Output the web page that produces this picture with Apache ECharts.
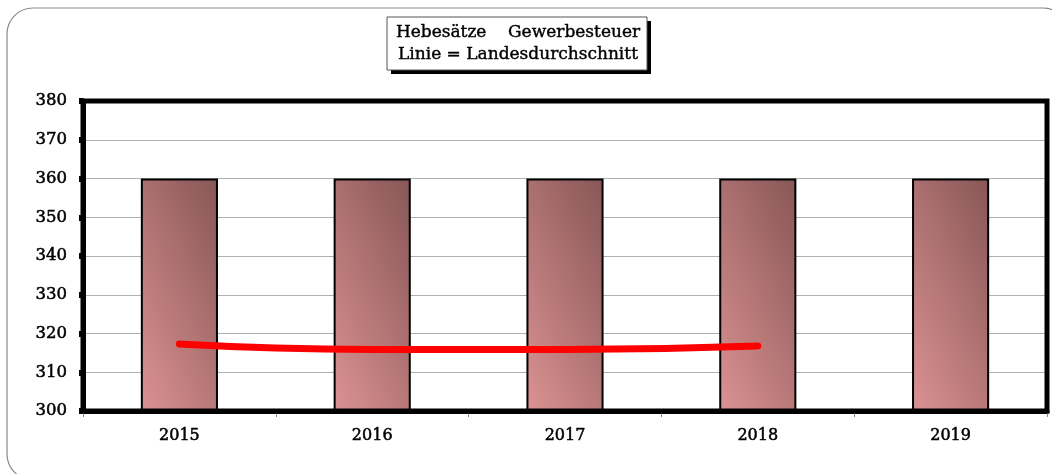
<!DOCTYPE html>
<html><head><meta charset="utf-8">
<script src="https://cdn.jsdelivr.net/npm/echarts@6/dist/echarts.min.js"></script>
<style>html,body{margin:0;padding:0;background:#fff}#c{width:1052px;height:474px}</style>
</head><body><div id="c"></div>
<script>
const categories = ['2015', '2016', '2017', '2018', '2019'];
const hebesatz = [360, 360, 360, 360, 360];
const landesdurchschnitt = [317.3, 315.9, 315.9, 316.8, null];
const yTicks = { min: 300, max: 380, interval: 10 };
const titleLines = ['Hebesätze    Gewerbesteuer', 'Linie = Landesdurchschnitt'];

const FONT = '"DejaVu Serif", serif';
const chart = echarts.init(document.getElementById('c'), null, { renderer: 'canvas' });
chart.setOption({
  animation: false,
  backgroundColor: '#fff',
  graphic: [
    { type: 'rect', z: 0, shape: { x: 7, y: 8, width: 1062, height: 472, r: 26 },
      style: { fill: '#fff', stroke: '#888', lineWidth: 1.2 } },
    { type: 'rect', z: 100, shape: { x: 391, y: 21, width: 260, height: 53 }, style: { fill: '#000' } },
    { type: 'rect', z: 101, shape: { x: 387, y: 17, width: 260, height: 53 }, style: { fill: '#fff', stroke: '#555', lineWidth: 1 } },
    { type: 'text', z: 102, style: { x: 518, y: 33, text: titleLines[0], font: '17px ' + FONT, fill: '#000', stroke: '#000', lineWidth: 0.4, align: 'center', verticalAlign: 'middle' } },
    { type: 'text', z: 102, style: { x: 518, y: 55, text: titleLines[1], font: '17px ' + FONT, fill: '#000', stroke: '#000', lineWidth: 0.4, align: 'center', verticalAlign: 'middle' } }
  ],
  grid: { left: 83, right: 5, top: 101, bottom: 63, show: true, borderColor: '#000', borderWidth: 5, backgroundColor: 'transparent', z: 3 },
  xAxis: {
    type: 'category', data: categories, boundaryGap: true,
    axisLine: { show: true, lineStyle: { color: '#000', width: 5 } },
    axisTick: { show: true, length: 6, lineStyle: { color: '#888', width: 1 } },
    axisLabel: { color: '#000', fontFamily: FONT, fontSize: 16, margin: 17, textBorderColor: '#000', textBorderWidth: 0.5 },
    splitLine: { show: false }
  },
  yAxis: {
    type: 'value', min: yTicks.min, max: yTicks.max, interval: yTicks.interval,
    axisLine: { show: true, lineStyle: { color: '#000', width: 5 } },
    axisTick: { show: true, length: 4, lineStyle: { color: '#000', width: 6 } },
    axisLabel: { color: '#000', fontFamily: FONT, fontSize: 16.5, margin: 16, textBorderColor: '#000', textBorderWidth: 0.5 },
    splitLine: { show: true, lineStyle: { color: '#b0b0b0', width: 1 } }
  },
  series: [
    { type: 'bar', data: hebesatz, barWidth: '40%', z: 2,
      itemStyle: { borderColor: '#000', borderWidth: 2,
        color: new echarts.graphic.LinearGradient(0, 1, 1.9, 0.72, [
          { offset: 0, color: '#dc9292' }, { offset: 1, color: '#8a5858' }]) } },
    { type: 'line', data: landesdurchschnitt, smooth: true, showSymbol: false, symbol: 'none', z: 5,
      lineStyle: { color: '#ff0000', width: 7, cap: 'round' } }
  ]
});
</script></body></html>
